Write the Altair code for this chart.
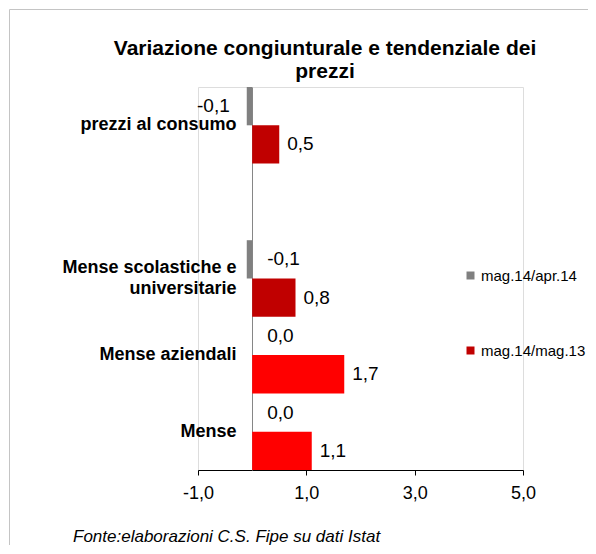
import altair as alt
import pandas as pd

# ---- data ----
categorie = ["prezzi al consumo", "Mense scolastiche e universitarie", "Mense aziendali", "Mense"]
serie = ["mag.14/apr.14", "mag.14/mag.13"]
congiunturale = [-0.1, -0.1, 0.0, 0.0]      # mag.14/apr.14
tendenziale = [0.5, 0.8, 1.7, 1.1]          # mag.14/mag.13
rosso_acceso = [False, False, True, True]   # bright red fill for these categories
ordine_asse = ["prezzi al consumo", " ", "Mense scolastiche e universitarie", "Mense aziendali", "Mense"]
x_ticks = [-1, 1, 3, 5]
titolo = ["Variazione congiunturale e tendenziale dei", "prezzi"]
fonte = "Fonte:elaborazioni C.S. Fipe su dati Istat"

FONT = "Liberation Sans"


def fmt(v):
    return f"{v:.1f}".replace(".", ",")


rows = []
for c, g, t, acc in zip(categorie, congiunturale, tendenziale, rosso_acceso):
    rows.append({"cat": c, "serie": serie[0], "valore": g, "acceso": False, "etichetta": fmt(g)})
    rows.append({"cat": c, "serie": serie[1], "valore": t, "acceso": acc, "etichetta": fmt(t)})
df = pd.DataFrame(rows)

y_enc = alt.Y(
    "cat:N",
    scale=alt.Scale(domain=ordine_asse, paddingInner=0, paddingOuter=0),
    axis=alt.Axis(
        title=None,
        offset=-54,
        domain=True,
        domainColor="#868686",
        domainWidth=1,
        ticks=False,
        grid=False,
        labelPadding=16,
        labelFont=FONT,
        labelFontSize=18,
        labelFontWeight="bold",
        labelColor="black",
        labelLimit=400,
        labelLineHeight=21,
        labelOffset={
            "condition": {"test": "datum.value == 'Mense scolastiche e universitarie'", "value": -10.5},
            "value": 0,
        },
        labelExpr="datum.value == 'Mense scolastiche e universitarie' ? ['Mense scolastiche e', 'universitarie'] : datum.value",
    ),
)
yoff_enc = alt.YOffset("serie:N", scale=alt.Scale(domain=serie, paddingInner=0, paddingOuter=0))
x_enc = alt.X(
    "valore:Q",
    scale=alt.Scale(domain=[-1, 5], nice=False, zero=False),
    axis=alt.Axis(
        title=None,
        values=x_ticks,
        labelExpr="datum.value + ',0'",
        labelFlush=False,
        domainColor="black",
        domainWidth=1,
        tickColor="black",
        tickSize=5,
        labelPadding=9,
        labelFont=FONT,
        labelFontSize=18,
        labelColor="black",
        grid=False,
    ),
)

colore = alt.condition(
    "datum.acceso",
    alt.value("#FF0000"),
    alt.Color(
        "serie:N",
        scale=alt.Scale(domain=serie, range=["#808080", "#C00000"]),
        legend=alt.Legend(
            title=None,
            orient="none",
            legendX=265,
            legendY=181,
            symbolType="square",
            symbolSize=64,
            symbolStrokeWidth=0,
            labelFont=FONT,
            labelFontSize=15,
            labelColor="black",
            rowPadding=59,
            labelOffset=3,
            padding=0,
        ),
    ),
)

base = alt.Chart(df)

barre = base.mark_bar().encode(x=x_enc, y=y_enc, yOffset=yoff_enc, color=colore)

txt_style = dict(font=FONT, fontSize=19, color="black", baseline="middle")

lab_rosse = base.transform_filter(alt.datum.serie == serie[1]).mark_text(
    align="left", dx=8, **txt_style
).encode(x=x_enc, y=y_enc, yOffset=yoff_enc, text="etichetta:N")

lab_grigie = base.transform_filter(
    (alt.datum.serie == serie[0]) & (alt.datum.cat != categorie[0])
).mark_text(align="left", dx=15, **txt_style).encode(
    x=alt.datum(0), y=y_enc, yOffset=yoff_enc, text="etichetta:N"
)

lab_grigia_prezzi = base.transform_filter(
    (alt.datum.serie == serie[0]) & (alt.datum.cat == categorie[0])
).mark_text(align="right", dx=-17, **txt_style).encode(
    x=x_enc, y=y_enc, yOffset=yoff_enc, text="etichetta:N"
)

one = pd.DataFrame({"k": [0]})
bordo_sup = alt.Chart(one).mark_rule(color="#c4c4c4", strokeWidth=1).encode(
    x=alt.value(-188.5), x2=alt.value(392), y=alt.value(-77.5)
)
bordo_sx = alt.Chart(one).mark_rule(color="#c4c4c4", strokeWidth=1).encode(
    x=alt.value(-188.5), y=alt.value(-77.5), y2=alt.value(459)
)
intestazione = alt.Chart(one).mark_text(
    align="center", baseline="alphabetic", font=FONT, fontSize=21, fontWeight="bold",
    color="black", lineHeight=23.5
).encode(x=alt.value(127), y=alt.value(-32.5), text=alt.value(titolo))
nota = alt.Chart(one).mark_text(
    align="left", baseline="alphabetic", font=FONT, fontSize=17, fontStyle="italic", color="black"
).encode(x=alt.value(-125), y=alt.value(455), text=alt.value(fonte))

chart = alt.layer(
    bordo_sup, bordo_sx, barre, lab_rosse, lab_grigie, lab_grigia_prezzi, intestazione, nota
).properties(
    width=325,
    height=383,
    padding={"left": 190, "top": 79, "right": 65, "bottom": 75},
    autosize=alt.AutoSizeParams(type="none"),
).configure_view(strokeWidth=0).configure(background="white")

chart.save("out.html", embed_options={"renderer": "svg", "actions": False})
